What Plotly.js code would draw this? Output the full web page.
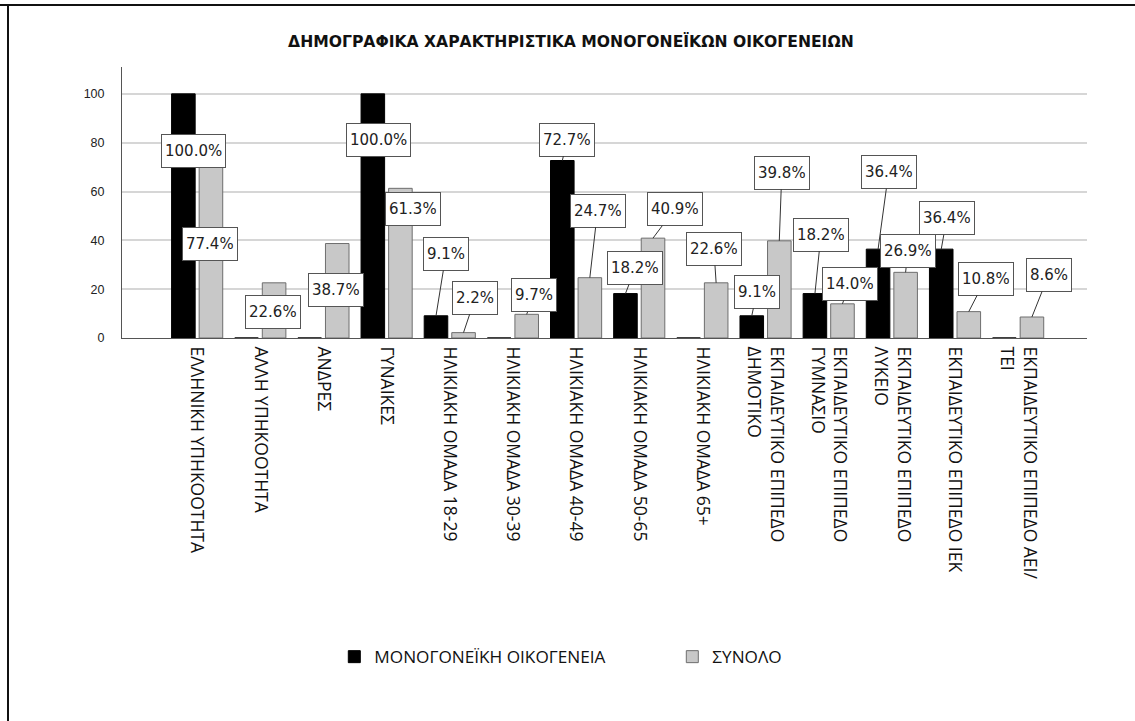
<!DOCTYPE html>
<html>
<head>
<meta charset="utf-8">
<script src="https://cdn.plot.ly/plotly-3.0.1.min.js"></script>
<style>
html,body{margin:0;padding:0;background:#fff;}
#chart{width:1135px;height:721px;}
</style>
</head>
<body>
<div id="chart"></div>
<script>
// ---- data ----
const categories = [
  "ΕΛΛΗΝΙΚΗ ΥΠΗΚΟΟΤΗΤΑ",
  "ΑΛΛΗ ΥΠΗΚΟΟΤΗΤΑ",
  "ΑΝΔΡΕΣ",
  "ΓΥΝΑΙΚΕΣ",
  "ΗΛΙΚΙΑΚΗ ΟΜΑΔΑ 18-29",
  "ΗΛΙΚΙΑΚΗ ΟΜΑΔΑ 30-39",
  "ΗΛΙΚΙΑΚΗ ΟΜΑΔΑ 40-49",
  "ΗΛΙΚΙΑΚΗ ΟΜΑΔΑ 50-65",
  "ΗΛΙΚΙΑΚΗ ΟΜΑΔΑ 65+",
  "ΕΚΠΑΙΔΕΥΤΙΚΟ ΕΠΙΠΕΔΟ<br>ΔΗΜΟΤΙΚΟ",
  "ΕΚΠΑΙΔΕΥΤΙΚΟ ΕΠΙΠΕΔΟ<br>ΓΥΜΝΑΣΙΟ",
  "ΕΚΠΑΙΔΕΥΤΙΚΟ ΕΠΙΠΕΔΟ<br>ΛΥΚΕΙΟ",
  "ΕΚΠΑΙΔΕΥΤΙΚΟ ΕΠΙΠΕΔΟ ΙΕΚ",
  "ΕΚΠΑΙΔΕΥΤΙΚΟ ΕΠΙΠΕΔΟ ΑΕΙ/<br>ΤΕΙ"
];
const monoValues  = [100, 0, 0, 100, 9.1, 0, 72.7, 18.2, 0, 9.1, 18.2, 36.4, 36.4, 0];
const totalValues = [77.4, 22.6, 38.7, 61.3, 2.2, 9.7, 24.7, 40.9, 22.6, 39.8, 14.0, 26.9, 10.8, 8.6];
const seriesNames = ["ΜΟΝΟΓΟΝΕΪΚΗ ΟΙΚΟΓΕΝΕΙΑ", "ΣΥΝΟΛΟ"];
const yTicks = [0, 20, 40, 60, 80, 100];
const chartTitle = "ΔΗΜΟΓΡΑΦΙΚΑ ΧΑΡΑΚΤΗΡΙΣΤΙΚΑ ΜΟΝΟΓΟΝΕΪΚΩΝ ΟΙΚΟΓΕΝΕΙΩΝ";

// ---- label placement (pixel offsets of label box from bar top, and whether a leader line shows) ----
const monoLabelStyle = {
  0: [10, 57, false], 3: [5.5, 46, false], 4: [10, -62, true], 6: [5, -21, true],
  7: [10, -26, true], 9: [5, -24, true], 10: [6, -59, true], 11: [10.5, -77, true], 12: [5.5, -31, true]
};
const totalLabelStyle = {
  0: [-0.5, 95, false], 1: [-1, 29, false], 2: [-1, 46, false], 3: [12.5, 20.5, false],
  4: [11.7, -35, true], 5: [7, -19, true], 6: [7.7, -67, true], 7: [21.7, -29, true],
  8: [-2.3, -34, true], 9: [2.5, -68, true], 10: [7.3, -20, true], 11: [2.3, -21, true],
  12: [17, -33, true], 13: [16.7, -42, true]
};
const barShift = 13.75;

const traces = [
  {type:'bar', name: seriesNames[0], x: categories, y: monoValues,
   marker:{color:'#000000', line:{color:'#000000', width:1}}, hoverinfo:'skip'},
  {type:'bar', name: seriesNames[1], x: categories, y: totalValues,
   marker:{color:'#c8c8c8', line:{color:'#6e6e6e', width:1}}, hoverinfo:'skip'}
];

const annFont = {family:'DejaVu Sans, sans-serif', size:15, color:'#222'};
function makeAnn(cat, val, shift, st){
  const base = {x: cat, y: val, xref:'x', yref:'y', text: val.toFixed(1) + '%',
    font: annFont, bgcolor:'#ffffff', bordercolor:'#555555', borderwidth:1, borderpad:3, height:26};
  if (st[2]) {
    return Object.assign(base, {showarrow:true, arrowhead:0, arrowwidth:1, arrowcolor:'#333',
      standoff:0, xshift: shift, ax: st[0], ay: st[1]});
  }
  return Object.assign(base, {showarrow:false, xanchor:'center', yanchor:'middle',
    xshift: shift + st[0], yshift: -st[1]});
}
const annotations = [];
categories.forEach((c, i) => {
  if (monoValues[i] > 0 && monoLabelStyle[i]) annotations.push(makeAnn(c, monoValues[i], -barShift, monoLabelStyle[i]));
});
categories.forEach((c, i) => {
  if (totalValues[i] > 0 && totalLabelStyle[i]) annotations.push(makeAnn(c, totalValues[i], barShift, totalLabelStyle[i]));
});

const layout = {
  width:1135, height:721,
  margin:{l:122, r:48, t:67, b:383},
  paper_bgcolor:'#ffffff', plot_bgcolor:'#ffffff',
  barmode:'group', bargap:0.127, bargroupgap:0.145,
  showlegend:true,
  title:{text: chartTitle, font:{family:'DejaVu Sans, sans-serif', size:15.6, color:'#111', weight:'bold'},
         x:0.503, xref:'container', y:1-42/721, yref:'container', yanchor:'middle', xanchor:'center'},
  xaxis:{type:'category', range:[-1.19, 14.09], tickangle:90,
         tickfont:{family:'Open Sans, sans-serif', size:17.5, color:'#111'},
         showline:true, linecolor:'#555', linewidth:1, showgrid:false, ticks:'', ticklabelstandoff:4,
         fixedrange:true},
  yaxis:{range:[0, 111], tickvals:yTicks, ticktext:yTicks.map(String),
         tickfont:{family:'Liberation Sans Narrow, Arial Narrow, Liberation Sans, sans-serif', size:12.5, color:'#222'},
         showline:true, linecolor:'#555', linewidth:1, showgrid:true, gridcolor:'#d6d6d6', gridwidth:2,
         zeroline:false, ticks:'', ticklabelstandoff:14, fixedrange:true},
  legend:{orientation:'h', x:0.22, xanchor:'left', y:-1.177, yanchor:'middle',
          font:{family:'Open Sans, sans-serif', size:17.2, color:'#111'},
          entrywidth:293, entrywidthmode:'pixels', traceorder:'normal'},
  annotations: annotations,
  shapes:[
    {type:'line', xref:'paper', yref:'paper', x0:-122/965, x1:(1135-122)/965, y0:(338-5)/271, y1:(338-5)/271,
     line:{color:'#111', width:2}},
    {type:'line', xref:'paper', yref:'paper', x0:-114/965, x1:-114/965, y0:(338-5)/271, y1:(338-721)/271,
     line:{color:'#111', width:2}}
  ]
};

Plotly.newPlot('chart', traces, layout, {displayModeBar:false, staticPlot:true});
</script>
</body>
</html>
